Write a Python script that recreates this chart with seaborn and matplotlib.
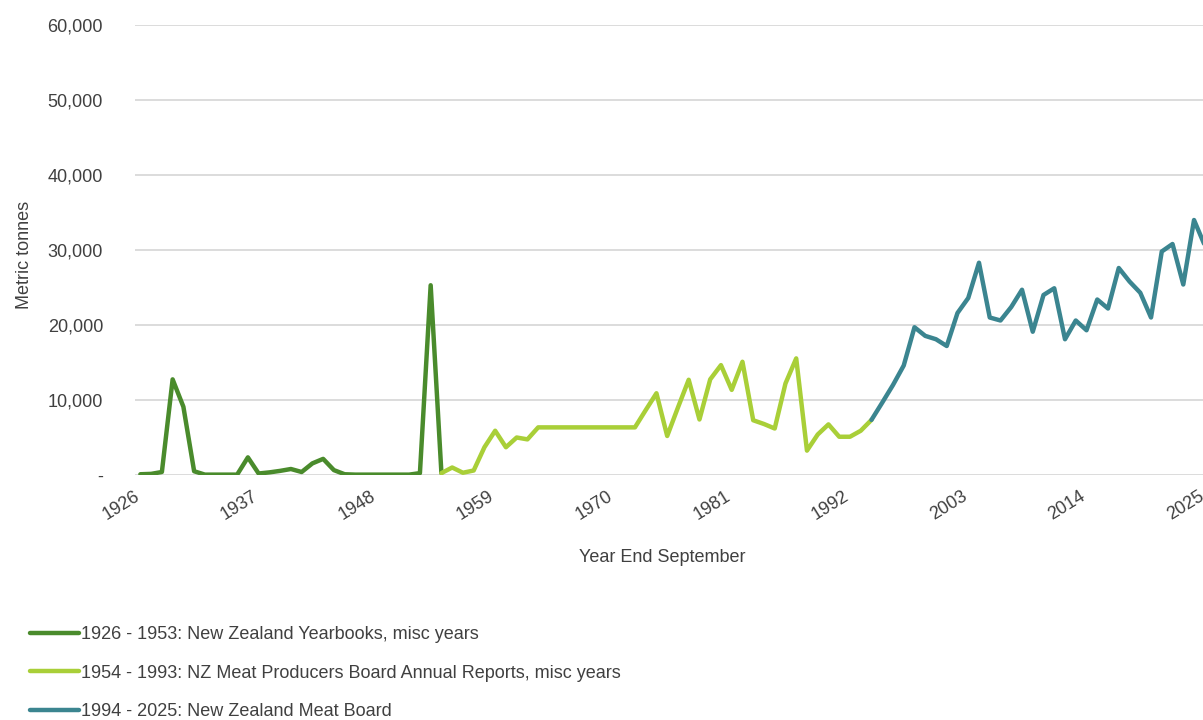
import matplotlib
matplotlib.use("Agg")
import matplotlib.pyplot as plt
import matplotlib.ticker as mticker
import matplotlib.transforms as mtransforms
import seaborn as sns
import pandas as pd

# 1926 - 1953: New Zealand Yearbooks
yearbook_years = list(range(1926, 1954))
yearbook_tonnes = [100, 150, 400, 12750, 9100, 500, 50, 50, 50, 50,
                   2350, 200, 350, 550, 800, 400, 1550, 2150, 650, 100,
                   50, 50, 50, 50, 50, 50, 250, 25300]

# 1954 - 1993: NZ Meat Producers Board Annual Reports
producers_years = list(range(1954, 1994))
producers_tonnes = [250, 1000, 300, 600, 3700, 5900, 3700, 5000, 4750, 6350,
                    6350, 6350, 6350, 6350, 6350, 6350, 6350, 6350, 6350, 8650,
                    10900, 5200, 9000, 12700, 7400, 12750, 14650, 11350, 15100, 7300,
                    6800, 6200, 12200, 15550, 3250, 5400, 6750, 5100, 5100, 5900]

# 1994 - 2025: New Zealand Meat Board
meatboard_years = list(range(1994, 2026))
meatboard_tonnes = [7350, 9650, 12000, 14600, 19700, 18550, 18100, 17200, 21600, 23600,
                    28300, 21000, 20600, 22400, 24700, 19100, 24000, 24900, 18100, 20600,
                    19300, 23400, 22200, 27600, 25800, 24300, 21000, 29800, 30800, 25400,
                    34000, 30600]

series_labels = ["1926 - 1953: New Zealand Yearbooks, misc years",
                 "1954 - 1993: NZ Meat Producers Board Annual Reports, misc years",
                 "1994 - 2025: New Zealand Meat Board"]
series_colors = ["#4a8b2c", "#a9cf38", "#3b8590"]

xtick_years = [1926, 1937, 1948, 1959, 1970, 1981, 1992, 2003, 2014, 2025]

sns.set_theme(style="white")
plt.rcParams["font.family"] = ["Liberation Sans", "DejaVu Sans"]
text_color = "#404040"
fs = 13

fig = plt.figure(figsize=(12.03, 7.2), dpi=100)
ax = fig.add_axes([135 / 1203, 245 / 720, 1073 / 1203, 450 / 720])

segments = [(yearbook_years, yearbook_tonnes),
            (producers_years, producers_tonnes),
            (meatboard_years, meatboard_tonnes)]

for i, (yrs, vals) in enumerate(segments):
    x = list(yrs)
    y = list(vals)
    # carry the line on to the next source's first year so it stays joined
    if i + 1 < len(segments):
        x.append(segments[i + 1][0][0])
        y.append(segments[i + 1][1][0])
    df = pd.DataFrame({"year": x, "tonnes": y})
    sns.lineplot(data=df, x="year", y="tonnes", ax=ax, color=series_colors[i],
                 linewidth=3.2, label=series_labels[i])

ax.set_xlim(1925.5, 2025.3)
ax.set_ylim(0, 60000)
ax.set_xticks(xtick_years)
ax.set_yticks(range(0, 60001, 10000))
ax.yaxis.set_major_formatter(mticker.FuncFormatter(lambda v, p: "-" if v == 0 else f"{v:,.0f}"))

ax.tick_params(axis="x", length=0, pad=9, labelsize=fs, labelcolor=text_color)
ax.tick_params(axis="y", length=0, pad=23, labelsize=fs, labelcolor=text_color)

# slanted year labels, nudged left so their ends sit at the tick
shift = mtransforms.ScaledTranslation(-7 / 100, 0, fig.dpi_scale_trans)
for tick in ax.xaxis.get_major_ticks():
    lbl = tick.label1
    lbl.set_rotation(32)
    lbl.set_ha("right")
    lbl.set_va("top")
    lbl.set_rotation_mode("anchor")
    lbl.set_transform(lbl.get_transform() + shift)

ax.yaxis.grid(True, color="#d9d9d9", linewidth=1.3)
ax.xaxis.grid(False)
sns.despine(ax=ax, left=True, bottom=True)

ax.set_xlabel("Year End September", fontsize=fs, color=text_color)
ax.set_ylabel("Metric tonnes", fontsize=fs, color=text_color)
ax.xaxis.set_label_coords(0.491, -0.165)
ax.yaxis.set_label_coords(-0.095, 0.49)

handles, labels = ax.get_legend_handles_labels()
ax.get_legend().remove()
fig.legend(handles, labels, loc="upper left", bbox_to_anchor=(30 / 1203, 1 - 626 / 720),
           frameon=False, fontsize=fs, handlelength=2.7, handletextpad=0.1,
           labelspacing=1.2, borderpad=0, borderaxespad=0, labelcolor=text_color)

fig.savefig("out.png", dpi=100)
